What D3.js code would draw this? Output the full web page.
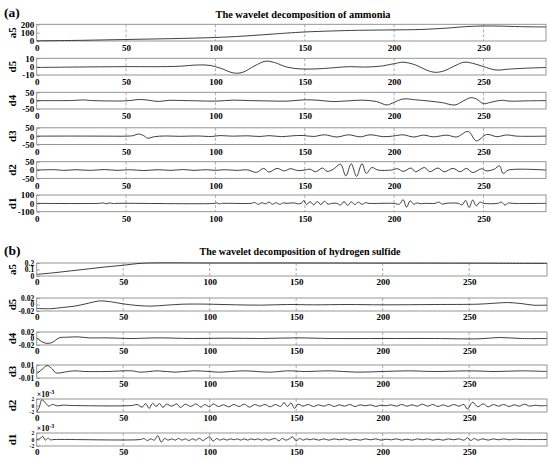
<!DOCTYPE html>
<html><head><meta charset="utf-8">
<script src="https://cdn.jsdelivr.net/npm/d3@7"></script>
<style>
body{margin:0;background:#fff}
svg{display:block}
text{font-family:"Liberation Serif","Times New Roman",serif;font-weight:bold;fill:#000}
</style>
</head><body><svg id="c" width="550" height="459"></svg>
<script>
// ---------- data ----------
const xTicks = [0, 50, 100, 150, 200, 250];
const rowNames = ["a5", "d5", "d4", "d3", "d2", "d1"];

// Panel (a): ammonia
const A_a5 = [[0,2],[25,8],[50,18],[75,28],[100,42],[115,58],[130,80],[140,95],[150,108],[165,120],[180,128],[200,133],[215,138],[230,155],[240,172],[250,180],[260,178],[270,172],[285,168]];
const A_d5 = [[0,-1],[20,-0.5],[50,0],[70,0],[80,0.5],[90,2],[97,1.5],[103,-2],[110,-7.5],[115,-7],[122,1],[128,6.5],[133,5],[140,-0.5],[148,-2.8],[158,-2.5],[168,-1],[175,0],[183,-0.5],[192,0.5],[200,3.5],[205,5.3],[212,2],[218,-4],[223,-6.8],[228,-5],[234,1],[239,5.3],[244,4],[250,0],[257,-4],[264,-3],[272,-2],[285,-1]];
const A_d4 = [[0,0],[20,1],[26,4],[32,0],[50,-1],[58,7],[63,2],[68,-5],[74,2],[80,1],[90,-1],[100,-3],[110,3],[120,0],[130,-2],[140,-3],[150,5],[158,2],[165,-5],[175,-1],[182,3],[190,-5],[196,-26],[199,-15],[205,10],[212,5],[220,-3],[227,-12],[234,-26],[239,0],[243,18],[246,10],[250,-18],[254,-10],[260,2],[265,-3],[275,-1],[285,0]];
const A_d3 = [[0,0],[20,0.5],[40,0],[50,0],[54,3],[57,13],[60,2],[62,-12],[66,-3],[72,1],[80,-1],[90,1],[98,-2],[102,3],[110,0],[118,2],[125,-2],[130,3],[137,-3],[143,2],[149,4],[155,-2],[161,8],[168,-5],[174.5,8],[181,-4],[186.5,8],[194,-3],[199,0],[205,8],[211,-5],[216.5,6],[222,-4],[229.6,6],[235,-5],[241.5,28],[246,-28],[251.8,10],[257.5,-3],[263,7],[268.7,0],[285,0]];
const A_d2 = [[0,0],[10,2],[15,-2],[22,2],[30,-2],[38,3],[45,-2],[52,2],[60,-3],[68,2],[75,-2],[82,3],[88,-2],[95,2],[100,-2],[105,2],[112,-2],[118,1],[123,-14],[127,10],[130,-12],[134.5,10],[138.5,-5],[142,8],[146,-3],[150,0],[153,5],[156,-10],[160,12],[162.5,-8],[166,5],[170,35],[173,-35],[176,38],[179,-38],[182,38],[184.5,-20],[187.5,15],[191,0],[198.5,0],[202,8],[205,-8],[209.5,12],[212,-10],[217,15],[220,-10],[224.5,12],[228,-10],[233,10],[237,-10],[240.5,10],[244,-15],[249,8],[251.5,-5],[256,5],[259,25],[261,-20],[264,0],[285,0]];
const A_d1 = [[0,0],[35,0],[37,5],[39,-4],[41,5],[43,-3],[45,0],[100,0],[101,6],[102,-5],[104,0],[120,0],[122,10],[124,-12],[126,8],[128,-6],[130,15],[132,-10],[134,8],[136,-12],[138,6],[140,0],[144,6],[146,-5],[148,0],[149.5,35],[151,-15],[153,20],[155,-18],[157,22],[159,-15],[161,25],[163,-10],[165,0],[168,0],[170,-20],[172,22],[174,-25],[176,18],[178,-15],[180,15],[182,-12],[184,8],[186,0],[200,0],[203,-10],[205,45],[207,-45],[209,30],[211,-10],[213,5],[215,-5],[217,0],[223,0],[225,15],[227,-10],[229,0],[236,0],[238,-20],[240,35],[242,-50],[244,40],[246,-30],[248,15],[250,0],[258,0],[260,15],[262,-20],[264,5],[266,0],[285,0]];

// Panel (b): hydrogen sulfide (d2, d1 in units of 1e-3)
const B_a5 = [[0,0.025],[10,0.05],[20,0.08],[30,0.11],[40,0.14],[50,0.165],[58,0.19],[65,0.2],[80,0.202],[100,0.2],[150,0.2],[200,0.198],[250,0.197],[270,0.195],[295,0.193]];
const B_d5 = [[0,-0.012],[8,-0.013],[15,-0.009],[22,-0.005],[30,0.004],[36,0.011],[42,0.009],[50,0.002],[58,-0.003],[66,-0.005],[75,-0.002],[85,0.001],[100,0.001],[115,-0.001],[130,-0.002],[145,0],[160,-0.001],[180,0],[200,-0.001],[230,0],[255,0.001],[265,0.004],[272,0.006],[280,0.003],[287,-0.002],[295,-0.002]];
const B_d4 = [[0,0.002],[3,-0.01],[6,-0.015],[9,-0.012],[13,0.002],[18,0.004],[24,0.005],[30,0.002],[40,0.002],[55,0],[70,0.002],[90,0],[110,0.001],[130,0],[150,0.002],[170,0],[200,0],[230,0],[255,-0.001],[268,0.003],[280,0],[295,0]];
const B_d3 = [[0,-0.0035],[3,0.003],[6,0.009],[9,0.004],[11,-0.002],[14,-0.002],[18,0],[22,0.001],[28,0],[40,0],[55,0.001],[60,-0.001],[70,0.001],[80,-0.001],[90,0.001],[100,0],[105,-0.001],[120,0.001],[135,-0.001],[145,0.001],[155,0],[170,0.001],[185,-0.001],[200,0],[215,0.001],[230,0],[250,0.001],[265,0],[280,0.001],[295,0]];
const B_d2 = [[0,-2],[1.5,-0.5],[3,1.8],[5,0.8],[7,-0.2],[9,0.3],[12,-0.1],[15,0.1],[20,0],[55,0],[58,0.3],[61,-0.5],[63,0.6],[65,-0.9],[67,0.7],[69,-0.3],[71,0.6],[73,-0.6],[75,0.4],[78,-0.2],[81,0.5],[83,-0.6],[86,0.4],[89,-0.3],[92,0.5],[95,-0.5],[97,0.3],[100,-0.4],[102,0.5],[105,-0.3],[108,0.2],[111,-0.4],[114,0.3],[117,-0.3],[120,0.4],[123,-0.5],[126,0.3],[129,-0.2],[132,0.3],[135,-0.4],[138,0.3],[141,-0.3],[143,0.9],[145,-0.3],[147,0.8],[149,-0.9],[151,0.4],[154,-0.2],[157,0.3],[160,-0.3],[163,0.2],[166,-0.2],[169,0.3],[172,-0.3],[175,0.2],[178,-0.2],[181,0.3],[184,-0.3],[187,0.2],[190,-0.1],[193,0.2],[196,-0.3],[199,0.1],[202,-0.1],[205,0.2],[208,-0.2],[211,0.3],[214,-0.2],[217,0.2],[220,-0.2],[223,0.4],[226,-0.2],[229,0.3],[232,-0.3],[235,0.2],[238,-0.3],[241,0.3],[244,-0.2],[247,0.3],[249,-1.1],[252,1.0],[255,-0.4],[258,0.5],[261,-0.4],[264,0.3],[267,-0.2],[270,0.3],[273,-0.3],[276,0.2],[279,-0.2],[282,0.4],[285,-0.2],[288,0.1],[291,-0.1],[295,0]];
const B_d1 = [[0,0],[2,0.3],[3.5,1.0],[5,-0.2],[6.5,0.4],[8,-0.1],[10,0],[60,0],[62,0.3],[64,-0.3],[66,0.2],[68,-0.2],[70,1.2],[72,-0.8],[74,0.3],[76,-0.2],[78,0.2],[80,-0.2],[82,0.3],[84,-0.2],[86,0.2],[88,-0.3],[90,0.2],[92,-0.2],[94,0.4],[96,-0.3],[98,0.3],[100,0.8],[102,-0.5],[104,0.3],[106,-0.2],[108,0.2],[110,-0.2],[112,0.2],[114,-0.1],[116,0.2],[118,-0.2],[120,0.2],[122,-0.2],[124,0.2],[126,-0.1],[128,0.2],[130,-0.2],[132,0.2],[134,-0.2],[136,0.1],[138,0.3],[140,-0.4],[142,0.3],[144,-0.2],[146,0.2],[148,0.8],[150,-0.4],[152,0.3],[154,-0.2],[156,0.2],[158,-0.1],[160,0.2],[163,-0.2],[166,0.2],[169,-0.2],[172,0.2],[175,-0.1],[178,0.2],[181,-0.2],[184,0.1],[187,-0.2],[190,0.2],[193,-0.1],[196,0.2],[199,-0.2],[202,0.1],[205,-0.1],[208,0.2],[211,-0.2],[214,0.1],[217,-0.2],[220,0.2],[223,-0.1],[226,0.2],[229,-0.2],[232,0.1],[235,-0.2],[238,0.2],[241,-0.1],[244,0.2],[247,-0.2],[249,0.5],[251,-0.3],[253,0.3],[255,-0.2],[258,0.2],[261,-0.2],[264,0.2],[267,-0.1],[270,0.2],[273,-0.1],[276,0.1],[280,0],[295,0]];

// y-axis ranges and tick labels
const A_yTicks = [[0,100,200],[-10,0,10],[-50,0,50],[-50,0,50],[-50,0,50],[-100,0,100]];
const B_yTicks = [[0,0.1,0.2],[-0.02,0,0.02],[-0.02,0,0.02],[-0.01,0,0.01],[-2,0,2],[-2,0,2]];
const titles = ["The wavelet decomposition of ammonia", "The wavelet decomposition of hydrogen sulfide"];
const panelTags = ["(a)", "(b)"];

// ---------- layout ----------
const svg = d3.select("#c");
const panels = [
  {tag: panelTags[0], title: titles[0], tagY: 17, titleY: 17.5, titleX: 303, titleW: 175, xMax: 285, left: 36.7, right: 546,
   tops: [24.3, 58.3, 92.3, 127.8, 161.7, 195], h: 16.7, yFont: 9,
   data: [A_a5, A_d5, A_d4, A_d3, A_d2, A_d1], yTicks: A_yTicks, sci: [false,false,false,false,false,false]},
  {tag: panelTags[1], title: titles[1], tagY: 255, titleY: 254.5, titleX: 300, titleW: 201, xMax: 295, left: 36.7, right: 547,
   tops: [263, 298, 332, 365, 399, 433], h: 13, yFont: 7.5,
   data: [B_a5, B_d5, B_d4, B_d3, B_d2, B_d1], yTicks: B_yTicks, sci: [false,false,false,false,true,true]}
];

const fmt = v => (v === 0 ? "0" : String(v));

panels.forEach((p, pi) => {
  svg.append("text").attr("x", 4).attr("y", p.tagY).attr("font-size", 13.5).text(p.tag);
  svg.append("text").attr("x", p.titleX).attr("y", p.titleY).attr("text-anchor", "middle")
    .attr("font-size", 10.5).attr("textLength", p.titleW).attr("lengthAdjust", "spacingAndGlyphs").text(p.title);

  const x = d3.scaleLinear().domain([0, p.xMax]).range([p.left, p.right]);
  rowNames.forEach((name, i) => {
    const top = p.tops[i], bottom = top + p.h;
    const yt = p.yTicks[i];
    const y = d3.scaleLinear().domain([yt[0], yt[yt.length-1]]).range([bottom, top]);
    const g = svg.append("g");
    const clipId = "clip" + pi + "_" + i;
    svg.append("clipPath").attr("id", clipId).append("rect")
      .attr("x", p.left).attr("y", top - 1).attr("width", p.right - p.left).attr("height", p.h + 2);

    // dashed x grid
    g.append("g").selectAll("line").data(xTicks.filter(t => t > 0)).join("line")
      .attr("x1", d => x(d)).attr("x2", d => x(d)).attr("y1", top).attr("y2", bottom)
      .attr("stroke", "#9a9a9a").attr("stroke-width", 0.8).attr("stroke-dasharray", "3,2");

    // x axis labels
    const xa = g.append("g").attr("transform", `translate(0,${bottom})`)
      .call(d3.axisBottom(x).tickValues(xTicks).tickSize(0).tickPadding(pi === 0 ? 4 : 3).tickFormat(d3.format("d")));
    xa.select(".domain").remove();
    xa.selectAll("text").attr("font-size", 9).attr("font-family", "Liberation Serif").attr("font-weight", "bold").attr("fill", "#000");

    // y axis
    const ya = g.append("g").attr("transform", `translate(${p.left},0)`)
      .call(d3.axisLeft(y).tickValues(yt).tickSize(-3).tickPadding(2.5).tickFormat(fmt));
    ya.select(".domain").remove();
    ya.selectAll("line").attr("stroke", "#8a8a8a").attr("stroke-width", 0.8);
    ya.selectAll("text").attr("font-size", p.sci[i] ? 5.5 : p.yFont).attr("font-family", "Liberation Serif")
      .attr("font-weight", "bold").attr("fill", "#000");

    // box
    g.append("rect").attr("x", p.left).attr("y", top).attr("width", p.right - p.left).attr("height", p.h)
      .attr("fill", "none").attr("stroke", "#8a8a8a").attr("stroke-width", 0.9);

    // curve
    const line = d3.line().x(d => x(d[0])).y(d => y(d[1])).curve(d3.curveCatmullRom.alpha(0.5));
    g.append("path").datum(p.data[i]).attr("clip-path", `url(#${clipId})`)
      .attr("d", line).attr("fill", "none").attr("stroke", "#2a2a2a").attr("stroke-width", 0.9);

    // row label
    svg.append("text").attr("transform", `translate(13,${(top + bottom) / 2}) rotate(-90)`)
      .attr("text-anchor", "middle").attr("dominant-baseline", "middle").attr("font-size", 11).text(name);

    if (p.sci[i]) {
      const s = svg.append("text").attr("x", p.left).attr("y", top - 2.5).attr("font-size", 8);
      s.append("tspan").text("\u00d710");
      s.append("tspan").attr("dy", -3).attr("font-size", 6).text("-3");
    }
  });
});
</script>
</body></html>
